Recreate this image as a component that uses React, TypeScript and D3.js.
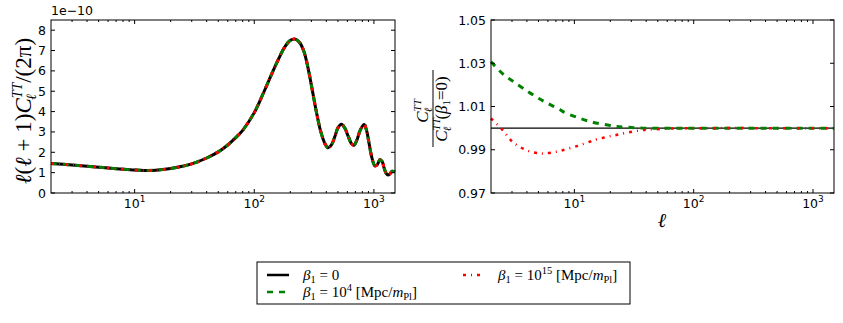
import React from 'react';
import * as d3 from 'd3';

// Left panel: l(l+1)C_l^TT/(2pi), in units of 1e-10
const ellCl = [2, 3, 4, 5, 6, 8, 10, 12, 15, 20, 25, 30, 40, 50, 60, 70, 80, 100, 120, 140, 160, 180, 200, 220, 240, 260, 280, 300, 330, 360, 390, 413, 440, 470, 500, 535, 570, 610, 650, 680, 720, 770, 828, 870, 910, 960, 1020, 1070, 1120, 1170, 1220, 1270, 1312, 1360, 1420, 1500];
const dl = [1.45, 1.38, 1.32, 1.27, 1.23, 1.17, 1.13, 1.11, 1.12, 1.2, 1.31, 1.43, 1.72, 2.02, 2.36, 2.72, 3.08, 3.95, 4.95, 5.85, 6.6, 7.18, 7.5, 7.56, 7.38, 6.95, 6.2, 5.3, 4.0, 3.0, 2.42, 2.22, 2.35, 2.75, 3.2, 3.38, 3.2, 2.78, 2.42, 2.35, 2.6, 3.1, 3.37, 3.05, 2.45, 1.75, 1.33, 1.4, 1.63, 1.55, 1.2, 0.95, 0.88, 0.94, 1.07, 1.04];

// Right panel: ratio C_l / C_l(beta1=0)
const ellRatio = [2, 2.5, 3.1, 4.1, 5, 5.5, 6.5, 7.6, 8.1, 10.5, 13.6, 14.5, 20, 22.8, 27.7, 37, 52.6, 80, 150, 300, 600, 1000, 1500];
const ratioBeta4 = [1.0307, 1.0252, 1.0214, 1.0168, 1.0138, 1.0125, 1.0104, 1.0085, 1.0075, 1.005, 1.003, 1.0026, 1.0012, 1.0007, 1.0004, 1.0, 1.0, 1.0, 1.0, 1.0, 1.0, 1.0, 1.0];
const ratioBeta15 = [1.0045, 0.9991, 0.9932, 0.9895, 0.9884, 0.9883, 0.9887, 0.9895, 0.9899, 0.9917, 0.9938, 0.9944, 0.9963, 0.9969, 0.9979, 0.9991, 0.9996, 0.9999, 1.0, 1.0, 1.0, 1.0, 1.0];

const leftYTicks = [0, 1, 2, 3, 4, 5, 6, 7, 8];
const rightYTicks = [0.97, 0.99, 1.01, 1.03, 1.05];
const decadeTicks = [10, 100, 1000];
const decadeLabels = ['1', '2', '3'];

const W = 843;
const H = 323;
const top = 20;
const bottom = 193;

const minorTicks: number[] = [];
[1, 10, 100, 1000].forEach(p => {
  for (let k = 2; k <= 9; k++) {
    const v = k * p;
    if (v > 2 && v < 1500) minorTicks.push(v);
  }
});

const tickFont = 'DejaVu Sans, sans-serif';
const mathFont = 'Liberation Serif, DejaVu Serif, serif';

function Panel({ x0, x1, y, yTicks, fmt, children }: any) {
  const x = d3.scaleLog().domain([2, 1500]).range([x0, x1]);
  return (
    <g>
      {children(x)}
      <rect x={x0} y={top} width={x1 - x0} height={bottom - top} fill="none" stroke="#000" strokeWidth={1} />
      {decadeTicks.map(t => (
        <g key={'M' + t}>
          <line x1={x(t)} x2={x(t)} y1={bottom} y2={bottom - 4} stroke="#000" />
          <line x1={x(t)} x2={x(t)} y1={top} y2={top + 4} stroke="#000" />
        </g>
      ))}
      {minorTicks.map(t => (
        <g key={'m' + t}>
          <line x1={x(t)} x2={x(t)} y1={bottom} y2={bottom - 2} stroke="#000" />
          <line x1={x(t)} x2={x(t)} y1={top} y2={top + 2} stroke="#000" />
        </g>
      ))}
      {decadeTicks.map((t, i) => (
        <text key={'L' + t} x={x(t)} y={208} textAnchor="middle" fontFamily={tickFont} fontSize={12.5}>
          10<tspan dy={-6} fontSize={9}>{decadeLabels[i]}</tspan>
        </text>
      ))}
      {yTicks.map((t: number) => (
        <g key={'y' + t}>
          <line x1={x0} x2={x0 + 4} y1={y(t)} y2={y(t)} stroke="#000" />
          <line x1={x1} x2={x1 - 4} y1={y(t)} y2={y(t)} stroke="#000" />
          <text x={x0 - 5} y={y(t) + 4.5} textAnchor="end" fontFamily={tickFont} fontSize={12.5}>{fmt(t)}</text>
        </g>
      ))}
    </g>
  );
}

export default function App() {
  const yL = d3.scaleLinear().domain([0, 8.5]).range([bottom, top]);
  const yR = d3.scaleLinear().domain([0.97, 1.05]).range([bottom, top]);

  const leftPanel = (x: any) => {
    const line = d3.line<number>()
      .x((_, i) => x(ellCl[i]))
      .y(d => yL(d))
      .curve(d3.curveCatmullRom.alpha(0.5));
    const p = line(dl) || '';
    return (
      <g>
        <path d={p} fill="none" stroke="#000" strokeWidth={3} />
        <path d={p} fill="none" stroke="#008000" strokeWidth={3} strokeDasharray="6,6" />
        <path d={p} fill="none" stroke="#ff0000" strokeWidth={3} strokeDasharray="3,5,1,5" />
      </g>
    );
  };

  const rightPanel = (x: any) => {
    const line = d3.line<number>()
      .x((_, i) => x(ellRatio[i]))
      .y(d => yR(d))
      .curve(d3.curveCatmullRom.alpha(0.5));
    return (
      <g>
        <line x1={x(2)} x2={x(1500)} y1={yR(1)} y2={yR(1)} stroke="#000" strokeWidth={1.2} />
        <path d={line(ratioBeta4) || ''} fill="none" stroke="#008000" strokeWidth={3} strokeDasharray="6,6" />
        <path d={line(ratioBeta15) || ''} fill="none" stroke="#ff0000" strokeWidth={2.5} strokeDasharray="3,5,1,5" />
      </g>
    );
  };

  const beta = (sup: string | null, size: number) => (
    <>
      <tspan fontStyle="italic">β</tspan><tspan dy={3} fontSize={size * 0.7}>1</tspan>
      <tspan dy={-3}> = {sup === null ? '0' : '10'}</tspan>
      {sup !== null && (
        <>
          <tspan dy={-6} fontSize={size * 0.7}>{sup}</tspan><tspan dy={6}> [Mpc/</tspan>
          <tspan fontStyle="italic">m</tspan><tspan dy={3} fontSize={size * 0.7}>Pl</tspan><tspan dy={-3}>]</tspan>
        </>
      )}
    </>
  );

  return (
    <svg width={W} height={H} style={{ position: 'absolute', left: 0, top: 0, background: '#fff' }}>
      <Panel x0={51} x1={395} y={yL} yTicks={leftYTicks} fmt={(t: number) => String(t)}>
        {leftPanel}
      </Panel>
      <text x={51} y={15} fontFamily={tickFont} fontSize={12.5}>1e−10</text>
      <text transform="translate(31,111) rotate(-90)" textAnchor="middle" fontFamily={mathFont} fontSize={23}>
        <tspan fontStyle="italic">ℓ</tspan>(<tspan fontStyle="italic">ℓ</tspan> + 1)<tspan fontStyle="italic">C</tspan>
        <tspan dy={-9} fontSize={14} fontStyle="italic">TT</tspan>
        <tspan dx={-17} dy={14} fontSize={14} fontStyle="italic">ℓ</tspan>
        <tspan dx={11} dy={-5}>/(2π)</tspan>
      </text>

      <Panel x0={491} x1={834} y={yR} yTicks={rightYTicks} fmt={(t: number) => t.toFixed(2)}>
        {rightPanel}
      </Panel>
      <text x={662} y={227} textAnchor="middle" fontFamily={mathFont} fontSize={20} fontStyle="italic">ℓ</text>
      <g transform="translate(433,109) rotate(-90)" fontFamily={mathFont}>
        <line x1={-38} x2={39} y1={0} y2={0} stroke="#000" strokeWidth={1} />
        <text x={-2} y={-5} textAnchor="middle" fontSize={17}>
          <tspan fontStyle="italic">C</tspan>
          <tspan dy={-7} fontSize={11} fontStyle="italic">TT</tspan>
          <tspan dx={-13} dy={11} fontSize={11} fontStyle="italic">ℓ</tspan>
        </text>
        <text x={0} y={14} textAnchor="middle" fontSize={17}>
          <tspan fontStyle="italic">C</tspan>
          <tspan dy={-7} fontSize={11} fontStyle="italic">TT</tspan>
          <tspan dx={-13} dy={11} fontSize={11} fontStyle="italic">ℓ</tspan>
          <tspan dx={7} dy={-4}>(</tspan><tspan fontStyle="italic">β</tspan>
          <tspan dy={3} fontSize={11}>1</tspan>
          <tspan dy={-3}>=0)</tspan>
        </text>
      </g>

      <g fontFamily={mathFont} fontSize={15}>
        <rect x={257} y={262} width={373} height={42} fill="#fff" stroke="#000" strokeWidth={1} />
        <line x1={267} x2={289} y1={275} y2={275} stroke="#000" strokeWidth={2.5} />
        <text x={303} y={280}>{beta(null, 15)}</text>
        <line x1={267} x2={289} y1={292} y2={292} stroke="#008000" strokeWidth={2.5} strokeDasharray="6,6" />
        <text x={303} y={297}>{beta('4', 15)}</text>
        <line x1={463} x2={485} y1={275} y2={275} stroke="#ff0000" strokeWidth={2.5} strokeDasharray="3,5,1,5" />
        <text x={498} y={280}>{beta('15', 15)}</text>
      </g>
    </svg>
  );
}
